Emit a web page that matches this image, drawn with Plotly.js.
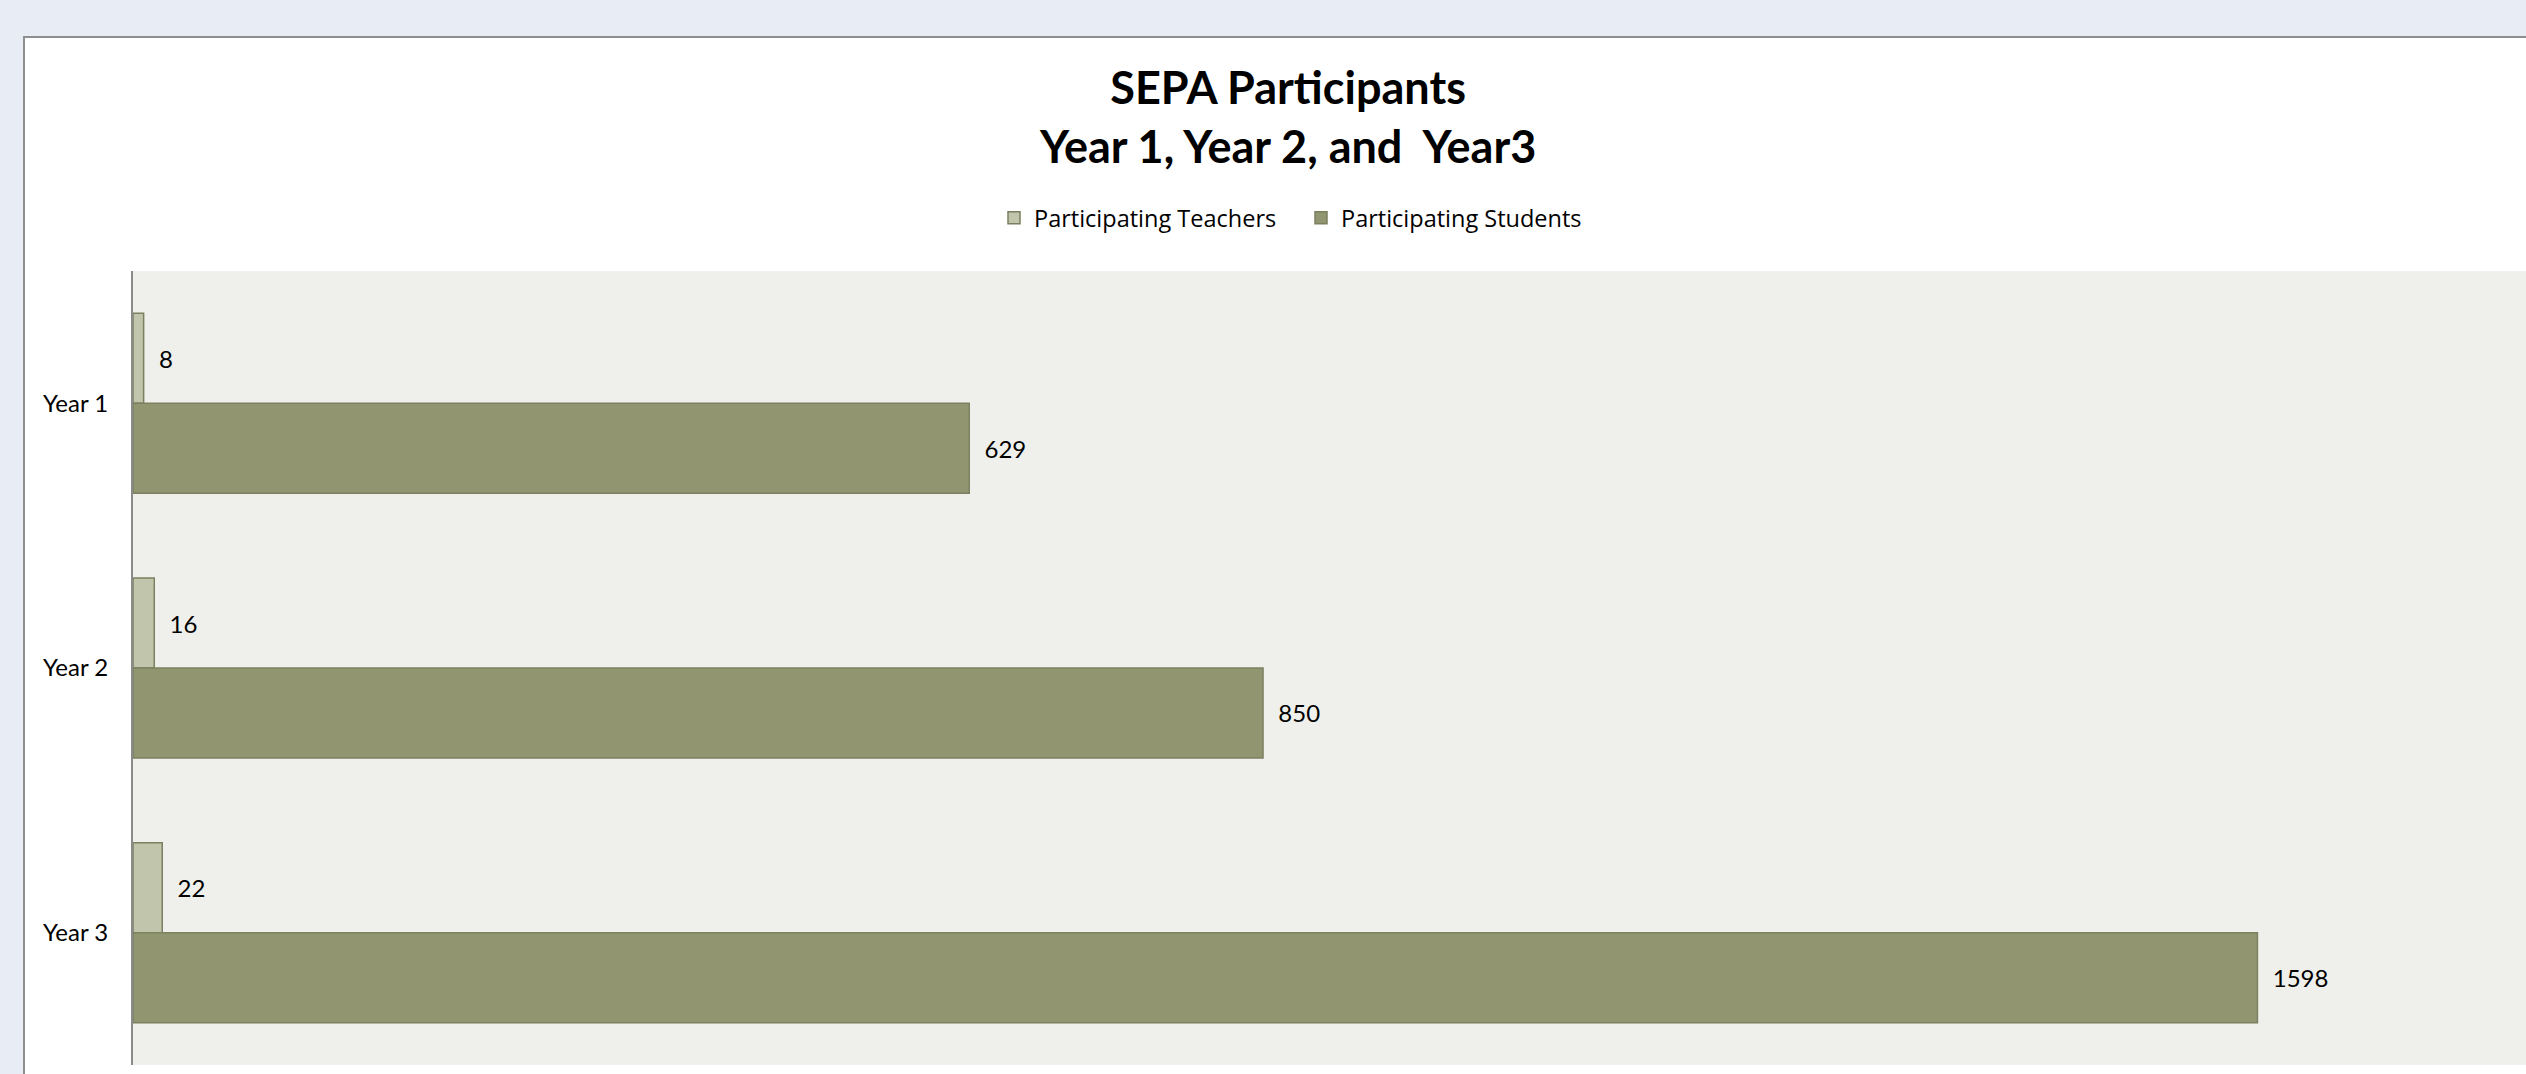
<!DOCTYPE html>
<html>
<head>
<meta charset="utf-8">
<script src="https://cdn.plot.ly/plotly-3.0.1.min.js"></script>
<style>
  html, body { margin: 0; padding: 0; background: #E8ECF4; width: 2526px; height: 1074px; overflow: hidden; }
  #chart { position: absolute; left: 23px; top: 36px; width: 2501px; height: 1036px;
           border-left: 2px solid #8E8E8E; border-top: 2px solid #8E8E8E; background: #FFFFFF; }
</style>
</head>
<body>
<div id="chart"></div>
<script>
// ---- data ----
var categories = ['Year 1', 'Year 2', 'Year 3'];
var teachers = [8, 16, 22];
var students = [629, 850, 1598];
var seriesNames = ['Participating Teachers', 'Participating Students'];
var titleLines = ['SEPA Participants', 'Year 1, Year 2, and\u00a0 Year3'];

var teacherColor = '#C0C5AB';
var studentColor = '#929670';
var outlineColor = '#7B8060';
var labelFont = { family: 'Lato, sans-serif', size: 24, color: '#000000' };

var traces = [
  {
    type: 'bar', orientation: 'h', name: seriesNames[0],
    y: categories, x: teachers,
    marker: { color: teacherColor, line: { color: outlineColor, width: 1.5 } },
    texttemplate: '\u00a0\u00a0%{x}', textposition: 'outside', cliponaxis: false,
    textfont: labelFont, hoverinfo: 'none'
  },
  {
    type: 'bar', orientation: 'h', name: seriesNames[1],
    y: categories, x: students,
    marker: { color: studentColor, line: { color: outlineColor, width: 1.5 } },
    texttemplate: '\u00a0\u00a0%{x}', textposition: 'outside', cliponaxis: false,
    textfont: labelFont, hoverinfo: 'none'
  }
];

var layout = {
  width: 2501, height: 1036,
  margin: { l: 108, r: 0, t: 233, b: 9, pad: 0 },
  paper_bgcolor: '#FFFFFF',
  plot_bgcolor: '#EFF0EB',
  barmode: 'group', bargap: 0.32, bargroupgap: 0,
  showlegend: true,
  title: {
    text: titleLines.join('<br>'),
    font: { family: 'Lato, sans-serif', size: 45, color: '#000000', weight: 'bold' },
    xref: 'paper', x: 0.4827, xanchor: 'center',
    yref: 'container', y: 0.936, yanchor: 'top'
  },
  legend: {
    orientation: 'h', x: 0.3598, xanchor: 'left', y: 1.0668, yanchor: 'middle',
    font: { family: '"Open Sans", sans-serif', size: 23.5, color: '#000000' },
    bgcolor: 'rgba(0,0,0,0)', entrywidth: 262, traceorder: 'normal'
  },
  xaxis: {
    range: [0, 1800], showticklabels: false, showgrid: false, zeroline: false,
    showline: false, ticks: ''
  },
  yaxis: {
    type: 'category', autorange: false, range: [2.5, -0.5],
    showgrid: false, zeroline: false,
    showline: true, linecolor: '#8A8A8A', linewidth: 2,
    ticks: 'outside', ticklen: 18, tickcolor: 'rgba(0,0,0,0)',
    tickfont: labelFont
  },
  hovermode: false
};

Plotly.newPlot('chart', traces, layout, { displayModeBar: false, staticPlot: true });
</script>
</body>
</html>
